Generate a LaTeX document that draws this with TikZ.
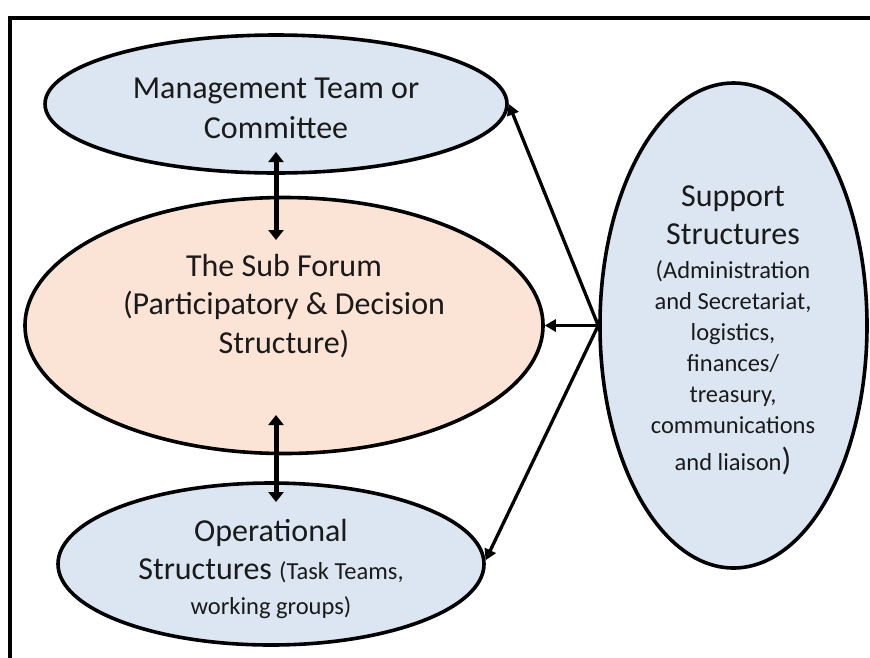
\documentclass[tikz,border=0pt]{standalone}
\usepackage{fontspec}
\setmainfont{Carlito}
\usetikzlibrary{shapes.geometric,arrows.meta}
\definecolor{lblue}{HTML}{DCE6F2}
\definecolor{peach}{HTML}{FBE4D5}
\definecolor{txt}{HTML}{1A1A1A}
\newcommand{\bigtxt}{\fontsize{32}{38}\selectfont}
\newcommand{\smalltxt}{\fontsize{24.5}{31}\selectfont}
\begin{document}
\begin{tikzpicture}[x=1pt,y=-1pt,
  oval/.style={ellipse, draw=black, line width=3.6pt, inner sep=0pt},
  lbl/.style={align=center, text=txt, font=\bigtxt, inner sep=0pt},
  biarrow/.style={line width=5pt, {Triangle[width=15pt,length=10pt]}-{Triangle[width=15pt,length=10pt]}},
  onearrow/.style={line width=3.3pt, -{Triangle[width=12pt,length=11pt]}}
]
\useasboundingbox (0,0) rectangle (870,657);
\clip (0,0) rectangle (870,657);
\draw[line width=4.5pt] (10,18) rectangle (900,700);
\node[oval, fill=lblue, minimum width=462pt, minimum height=138pt] (mgmt) at (276,104) {};
\node[oval, fill=peach, minimum width=518pt, minimum height=256pt] (forum) at (284,325.5) {};
\node[oval, fill=lblue, minimum width=426pt, minimum height=162pt] (oper) at (271,564) {};
\node[oval, fill=lblue, minimum width=267pt, minimum height=485pt] (supp) at (733.5,325.5) {};
\node[lbl] (mgmtT) at (276,108) {Management Team or\\[2pt]Committee};
\node[lbl] (forumT) at (284,306) {The Sub Forum\\(Participatory \& Decision\\[1pt]Structure)};
\node[lbl] (operT) at (271,569) {Operational\\Structures {\smalltxt(Task Teams,}\\[-3pt]{\smalltxt working groups)}};
\node[lbl] (suppT) at (733,330) {Support\\Structures\\[-4pt]{\smalltxt(Administration}\\[-7pt]{\smalltxt and Secretariat,}\\[-7pt]{\smalltxt logistics,}\\[-7pt]{\smalltxt finances/}\\[-7pt]{\smalltxt treasury,}\\[-7pt]{\smalltxt communications}\\[-1pt]{\smalltxt and liaison})};
\coordinate (a1) at (276,152);
\coordinate (a2) at (276,240);
\coordinate (b1) at (276,415);
\coordinate (b2) at (276,502);
\draw[biarrow] (a1) -- (a2);
\draw[biarrow] (b1) -- (b2);
\draw[onearrow] (supp.west) -- (mgmt.east);
\draw[onearrow] (supp.west) -- (forum.east);
\draw[onearrow] (supp.west) -- (oper.1.5);
\end{tikzpicture}
\end{document}
